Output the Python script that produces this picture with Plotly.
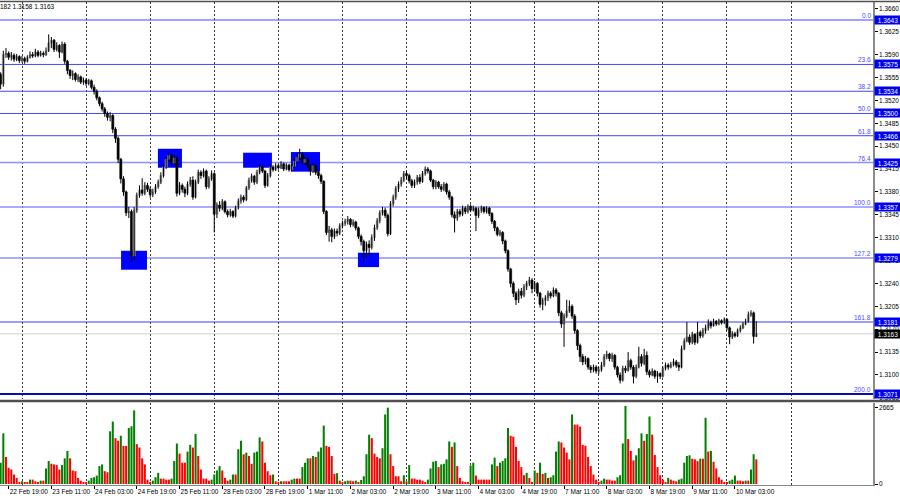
import plotly.graph_objects as go
import pandas as pd

# ---------------- data (prices as 1.xxxx -> xxxx) ----------------
first_open = 3560
close_c = [3545,3590,3592,3586,3589,3583,3587,3581,3584,3580,
3586,3590,3588,3594,3589,3592,3590,3596,3608,3612,
3598,3604,3594,3606,3580,3566,3558,3561,3552,3556,
3548,3551,3546,3550,3540,3534,3524,3515,3507,3500,
3494,3497,3476,3462,3430,3400,3380,3348,3350,3282,
3352,3375,3383,3378,3390,3384,3376,3380,3388,3395,
3405,3418,3430,3436,3424,3432,3378,3390,3384,3378,
3392,3398,3372,3395,3410,3405,3412,3388,3400,3408,
3346,3360,3355,3365,3350,3345,3350,3343,3356,3366,
3372,3368,3386,3398,3404,3395,3410,3418,3412,3390,
3405,3418,3414,3420,3417,3423,3415,3421,3414,3419,
3427,3433,3438,3425,3430,3420,3412,3420,3410,3405,
3396,3350,3318,3322,3312,3320,3317,3328,3332,3335,
3338,3330,3334,3325,3312,3304,3290,3300,3295,3310,
3325,3336,3348,3352,3344,3316,3362,3372,3385,3392,
3398,3408,3405,3397,3390,3395,3402,3396,3408,3415,
3412,3398,3388,3395,3388,3384,3392,3380,3372,3345,
3340,3350,3346,3355,3350,3358,3352,3355,3344,3352,
3356,3350,3355,3347,3335,3325,3315,3318,3305,3290,
3262,3240,3225,3215,3228,3222,3235,3240,3245,3232,
3240,3225,3208,3214,3218,3225,3221,3230,3225,3195,
3178,3190,3198,3205,3190,3168,3145,3128,3120,3125,
3112,3108,3112,3106,3108,3115,3128,3132,3125,3130,
3112,3100,3092,3110,3107,3122,3112,3098,3112,3128,
3118,3130,3105,3100,3106,3098,3102,3098,3110,3115,
3112,3116,3120,3115,3112,3140,3152,3158,3150,3162,
3150,3165,3160,3168,3172,3180,3175,3182,3178,3183,
3180,3185,3172,3158,3163,3160,3168,3172,3178,3182,
3192,3195,3159,3163]

high_c = [3563,3596,3600,3595,3594,3592,3591,3589,3588,3587,
3589,3595,3594,3599,3597,3596,3595,3601,3621,3617,
3614,3609,3606,3610,3609,3582,3568,3566,3563,3560,
3558,3555,3554,3553,3552,3544,3537,3526,3518,3510,
3503,3502,3499,3479,3465,3432,3404,3382,3357,3353,
3357,3379,3390,3401,3395,3394,3388,3385,3392,3399,
3410,3422,3434,3441,3438,3437,3434,3395,3393,3388,
3396,3403,3404,3399,3414,3413,3416,3414,3404,3413,
3410,3364,3366,3369,3367,3353,3354,3352,3359,3370,
3376,3375,3389,3402,3408,3406,3414,3424,3421,3414,
3409,3422,3421,3424,3423,3427,3425,3424,3423,3423,
3431,3439,3446,3441,3434,3432,3423,3424,3422,3413,
3408,3398,3352,3328,3325,3324,3324,3332,3336,3339,
3343,3340,3338,3336,3327,3315,3307,3304,3306,3315,
3330,3340,3352,3357,3356,3347,3366,3376,3389,3396,
3403,3412,3412,3408,3400,3399,3406,3407,3412,3419,
3418,3414,3400,3398,3397,3392,3395,3394,3383,3374,
3350,3354,3354,3359,3358,3361,3361,3359,3357,3356,
3359,3358,3358,3357,3349,3337,3327,3322,3320,3307,
3292,3264,3243,3228,3232,3233,3239,3244,3250,3248,
3244,3242,3227,3218,3222,3229,3228,3234,3233,3227,
3198,3194,3215,3214,3208,3193,3170,3148,3132,3129,
3127,3115,3116,3115,3112,3120,3132,3137,3134,3134,
3132,3114,3104,3114,3114,3135,3125,3115,3116,3143,
3132,3140,3136,3108,3110,3108,3106,3104,3113,3119,
3118,3120,3125,3123,3120,3145,3156,3181,3162,3166,
3164,3181,3168,3172,3177,3185,3183,3186,3184,3186,
3185,3188,3187,3174,3167,3166,3171,3176,3181,3186,
3197,3199,3197,3182]

low_c = [3537,3541,3585,3582,3581,3579,3580,3577,3578,3576,
3578,3584,3585,3586,3586,3587,3586,3588,3594,3600,
3594,3595,3585,3592,3576,3560,3553,3551,3549,3548,
3545,3544,3542,3543,3537,3529,3520,3511,3503,3495,
3489,3488,3470,3455,3424,3393,3374,3343,3340,3272,
3276,3348,3371,3374,3375,3380,3371,3372,3377,3385,
3392,3402,3415,3426,3420,3421,3373,3375,3379,3372,
3375,3388,3368,3370,3392,3400,3402,3384,3385,3397,
3318,3340,3350,3352,3347,3341,3342,3340,3341,3353,
3362,3364,3366,3383,3394,3391,3392,3407,3409,3386,
3388,3402,3411,3412,3414,3415,3412,3413,3411,3412,
3417,3424,3429,3421,3422,3416,3405,3409,3406,3400,
3392,3346,3314,3304,3303,3308,3312,3314,3324,3328,
3330,3326,3327,3321,3308,3298,3273,3280,3283,3292,
3305,3322,3332,3344,3340,3312,3314,3358,3368,3380,
3388,3395,3400,3393,3386,3386,3391,3392,3394,3405,
3408,3395,3384,3384,3385,3380,3381,3376,3368,3341,
3318,3336,3342,3343,3346,3347,3349,3350,3320,3340,
3348,3347,3347,3343,3331,3320,3312,3312,3300,3286,
3258,3234,3219,3207,3210,3217,3219,3230,3236,3225,
3228,3220,3203,3199,3206,3213,3217,3219,3220,3190,
3172,3143,3187,3195,3186,3163,3138,3120,3115,3116,
3108,3103,3104,3102,3101,3105,3112,3124,3121,3120,
3108,3096,3087,3090,3103,3105,3108,3087,3095,3110,
3113,3115,3100,3096,3098,3094,3088,3094,3096,3107,
3108,3110,3113,3111,3106,3110,3138,3150,3146,3147,
3146,3148,3156,3157,3163,3168,3171,3174,3175,3176,
3177,3178,3168,3147,3155,3157,3158,3165,3170,3176,
3180,3189,3148,3158]

volume = [746,1776,947,568,509,332,213,36,95,71,
71,154,154,95,71,118,118,545,805,710,
687,663,509,663,900,1160,900,474,450,213,
118,71,71,118,213,237,296,628,687,450,
414,1847,2190,1610,1516,1693,1338,1338,1965,2025,
2581,1397,1279,900,687,154,71,118,237,391,
189,189,154,154,189,805,1421,1066,746,746,
1137,1373,1279,1752,983,509,189,189,118,154,
332,474,628,474,213,118,154,332,332,1220,
1516,1042,1101,983,710,1101,1137,1634,1492,746,
450,308,332,95,71,95,95,95,95,154,
189,189,189,592,746,900,900,983,947,1137,
1279,2048,1338,1302,983,355,379,118,71,95,
118,118,95,118,71,142,272,1042,1729,1610,
1066,947,900,1255,2439,2676,1042,628,272,272,
95,308,95,663,189,189,154,154,118,71,
154,545,781,805,592,687,710,864,
1492,1302,1456,628,213,95,71,71,651,746,
296,154,154,154,154,154,687,924,628,746,
805,900,1965,1693,1658,1302,805,592,308,391,
213,71,474,391,746,355,391,213,237,308,
1137,1492,1456,1279,1101,864,2439,2084,2084,2013,
1373,1338,947,628,332,154,71,118,189,154,
154,118,118,237,308,1421,2735,1575,1160,829,
1006,1255,1776,1516,1752,2368,1729,1018,592,308,
154,71,213,154,118,95,154,189,746,983,
1006,888,864,805,888,888,2321,1137,1160,781,
545,237,154,71,36,118,154,296,118,118,
95,118,118,509,1042,864]

fib_names = ["0.0", "23.6", "38.2", "50.0", "61.8", "76.4", "100.0", "127.2", "161.8", "200.0"]
fib_prices = [1.3643, 1.3575, 1.3534, 1.3500, 1.3466, 1.3425, 1.3357, 1.3279, 1.3181, 1.3071]
fib_colors = ["#4545ff", "#4545ff", "#4545ff", "#4545ff", "#4545ff", "#8f8fff", "#8f8fff", "#8f8fff", "#3a3aff", "#0a0ab4"]
fib_widths = [1, 1, 1, 1, 1, 1.5, 1.5, 1.5, 1, 2]

price_ticks = [1.3660, 1.3625, 1.3590, 1.3555, 1.3520, 1.3485, 1.3450, 1.3415, 1.3380,
               1.3345, 1.3310, 1.3275, 1.3240, 1.3205, 1.3170, 1.3135, 1.3100, 1.3065]
vol_ticks = [0, 2665]
time_labels = ["22 Feb 19:00", "23 Feb 11:00", "24 Feb 03:00", "24 Feb 19:00", "25 Feb 11:00",
               "28 Feb 03:00", "28 Feb 19:00", "1 Mar 11:00", "2 Mar 03:00", "2 Mar 19:00",
               "3 Mar 11:00", "4 Mar 03:00", "4 Mar 19:00", "7 Mar 11:00", "8 Mar 03:00",
               "8 Mar 19:00", "9 Mar 11:00", "10 Mar 03:00"]
offscreen_label = "22 Feb 03:00"

# highlighted zones (bar index span, price span)
zone_bar0 = [45.1, 58.9, 90.8, 108.7, 133.8]
zone_bar1 = [54.8, 67.9, 101.6, 119.6, 141.7]
zone_low = [1.3261, 1.3417, 1.3417, 1.3411, 1.3265]
zone_high = [1.3290, 1.3446, 1.3440, 1.3441, 1.3287]

symbol = "GBPUSD,H1"

# ---------------- derived ----------------
def px(c):
    return 1 + c / 10000.0

x_range = [-0.24, 326.7]

times = pd.date_range("2022-02-22 16:00", "2022-03-10 11:00", freq="h")
times = times[times.dayofweek < 5]
bar_strs = [f"{t.day} {t:%b %H:%M}" for t in times]
n = len(close_c)
idx = list(range(n))

C = [px(v) for v in close_c]
H = [px(v) for v in high_c]
L = [px(v) for v in low_c]
O = [px(first_open)] + C[:-1]

tick_pos = [bar_strs.index(s) for s in time_labels]
grid_bars = [i for i, t in enumerate(times) if t.hour == 0]
grid_bars.append(grid_bars[-1] + 24)

bull = [c >= o for o, c in zip(O, C)]
body_base = [min(o, c) for o, c in zip(O, C)]
body_h = [abs(c - o) for o, c in zip(O, C)]
body_col = ["#a0a0a0" if b else "#000000" for b in bull]

wx, wy = [], []
for i in idx:
    wx += [i, i, None]
    wy += [L[i], H[i], None]

vol_col = ["#008000"] + ["#008000" if volume[i] > volume[i - 1] else "#ff0000" for i in range(1, n)]

fig = go.Figure()
fig.add_trace(go.Scatter(x=wx, y=wy, mode="lines", line=dict(color="black", width=1),
                         hoverinfo="skip", xaxis="x", yaxis="y"))
fig.add_trace(go.Bar(x=idx, y=body_h, base=body_base, width=0.78,
                     marker=dict(color=body_col, line=dict(color=body_col, width=0.6)),
                     xaxis="x", yaxis="y"))
fig.add_trace(go.Bar(x=idx, y=volume, width=0.76,
                     marker=dict(color=vol_col, line=dict(width=0)),
                     xaxis="x", yaxis="y2"))

shapes = []
for p, col, w in zip(fib_prices, fib_colors, fib_widths):
    shapes.append(dict(type="line", xref="x", x0=x_range[0], x1=x_range[1], yref="y", y0=p, y1=p,
                       line=dict(color=col, width=w), layer="between"))
shapes.append(dict(type="line", xref="x", x0=x_range[0], x1=x_range[1], yref="y", y0=C[-1], y1=C[-1],
                   line=dict(color="#cfcfcf", width=1), layer="between"))
for a, b, lo, hi in zip(zone_bar0, zone_bar1, zone_low, zone_high):
    shapes.append(dict(type="rect", xref="x", yref="y", x0=a, x1=b, y0=lo, y1=hi,
                       fillcolor="#0000ff", line=dict(width=0), layer="between"))
# window frame & separator
shapes.append(dict(type="line", xref="paper", yref="paper", x0=0, x1=900 / 873, y0=1.001, y1=1.001,
                   line=dict(color="#505050", width=1.5)))
sep_y = (485 - 401) / 483
shapes.append(dict(type="line", xref="paper", yref="paper", x0=0, x1=900 / 873, y0=sep_y, y1=sep_y,
                   line=dict(color="#505050", width=2.5)))

ann = []
for name, p in zip(fib_names, fib_prices):
    ann.append(dict(xref="paper", x=1, xanchor="right", xshift=-1, yref="y", y=p, yanchor="bottom",
                    text=name, showarrow=False, borderpad=0,
                    font=dict(color="#4a4aff", size=6.5)))
    ann.append(dict(xref="paper", x=1, xanchor="left", xshift=1, yref="y", y=p, yanchor="middle",
                    text=f"{p:.4f}", showarrow=False, bgcolor="#0000f0", borderpad=0,
                    width=26, height=8, align="center", font=dict(color="white", size=6.5)))
ann.append(dict(xref="paper", x=1, xanchor="left", xshift=1, yref="y", y=C[-1], yanchor="middle",
                text=f"{C[-1]:.4f}", showarrow=False, bgcolor="#000000", borderpad=0,
                width=26, height=8, align="center", font=dict(color="white", size=6.5)))
ann.append(dict(xref="paper", x=57 / 873, xanchor="right", yref="paper", y=1 - 5 / 483,
                yanchor="middle", showarrow=False,
                text=f"{symbol}  {O[-1]:.4f} {H[-1]:.4f} {L[-1]:.4f} {C[-1]:.4f}",
                font=dict(color="black", size=6.5)))
ann.append(dict(xref="x", x=tick_pos[0] - 16, xanchor="left", xshift=1, yref="paper",
                y=(485 - 492.5) / 483, yanchor="middle", showarrow=False, text=offscreen_label,
                font=dict(color="black", size=6.5)))

fig.update_layout(
    width=900, height=499,
    margin=dict(l=0, r=27, t=2, b=14, pad=0),
    paper_bgcolor="white", plot_bgcolor="white",
    showlegend=False, barmode="overlay",
    font=dict(family="Liberation Sans, Arial, sans-serif", size=6.5, color="black"),
    shapes=shapes, annotations=ann,
    xaxis=dict(domain=[0, 1], anchor="y2", range=x_range, showgrid=False, zeroline=False,
               tickmode="array", tickvals=tick_pos, ticktext=time_labels, tickangle=0,
               ticks="outside", ticklen=3, tickcolor="black", ticklabelposition="outside right",
               showline=True, linecolor="#8a8a8a", linewidth=1,
               minor=dict(tickmode="array", tickvals=grid_bars, showgrid=True, gridcolor="#383838",
                          griddash="2px,2px", gridwidth=1, ticks=""),
               tickfont=dict(size=6.5, color="black"), automargin=False),
    yaxis=dict(domain=[(485 - 399) / 483, 1], anchor="x", side="right",
               range=[1.306322, 1.367054], tickmode="array", tickvals=price_ticks,
               ticktext=[f"{v:.4f}" for v in price_ticks], ticks="outside", ticklen=3,
               tickcolor="black", showgrid=False, zeroline=False, showline=True,
               linecolor="#8a8a8a", linewidth=1.5, automargin=False,
               tickfont=dict(size=6.5, color="black")),
    yaxis2=dict(domain=[0, (485 - 403) / 483], anchor="x", side="right", range=[-35, 2840],
                tickmode="array", tickvals=vol_ticks, ticktext=[str(v) for v in vol_ticks],
                ticks="outside", ticklen=3, tickcolor="black", showgrid=False, zeroline=False,
                showline=True, linecolor="#8a8a8a", linewidth=1.5, automargin=False,
                tickfont=dict(size=6.5, color="black")),
)

fig.write_html("out.html", config={"displayModeBar": False},
               post_script="document.body.style.margin='0px';document.body.style.overflow='hidden';")
